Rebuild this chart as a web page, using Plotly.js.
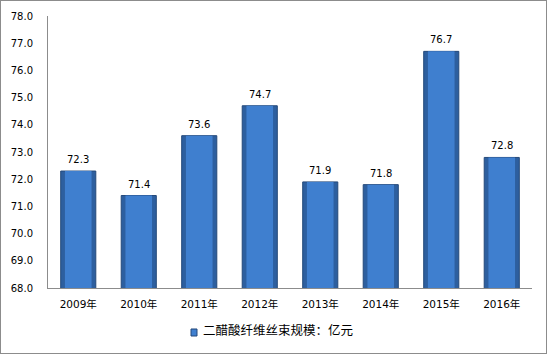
<!DOCTYPE html>
<html>
<head>
<meta charset="utf-8">
<script src="https://cdn.plot.ly/plotly-3.0.1.min.js"></script>
<style>
  body { margin: 0; padding: 0; background: #fff; }
  #wrap { position: relative; width: 548px; height: 356px; }
  #chart { position: absolute; left: 0; top: 0; width: 548px; height: 356px; }
  #frame { position: absolute; left: 0; top: 0; width: 547px; height: 354px; box-sizing: border-box; border: 1px solid #8c8c8c; pointer-events: none; }
</style>
</head>
<body>
<div id="wrap"><div id="chart"></div><div id="frame"></div></div>
<script>
const categories = ["2009年", "2010年", "2011年", "2012年", "2013年", "2014年", "2015年", "2016年"];
const values = [72.3, 71.4, 73.6, 74.7, 71.9, 71.8, 76.7, 72.8];
const valueLabels = ["72.3", "71.4", "73.6", "74.7", "71.9", "71.8", "76.7", "72.8"];
const seriesName = "二醋酸纤维丝束规模：亿元";
const yTicks = [68, 69, 70, 71, 72, 73, 74, 75, 76, 77, 78];
const yTickLabels = ["68.0", "69.0", "70.0", "71.0", "72.0", "73.0", "74.0", "75.0", "76.0", "77.0", "78.0"];

const font = "DejaVu Sans, Noto Sans CJK SC, sans-serif";

const outer = {
  type: "bar", x: categories, y: values, name: seriesName,
  width: 0.58,
  marker: { color: "#2d5f9f", line: { color: "#24497a", width: 1 } },
  cliponaxis: false,
  hoverinfo: "skip", showlegend: false
};
const inner = {
  type: "bar", x: categories, y: values, name: seriesName,
  width: 0.44,
  marker: { color: "#3f7fcf", line: { width: 0 } },
  hoverinfo: "skip", showlegend: false
};

const valueAnnotations = categories.map((c, i) => ({
  x: c, y: values[i], xref: "x", yref: "y",
  text: valueLabels[i], showarrow: false,
  xanchor: "center", yanchor: "bottom", yshift: 4,
  font: { family: font, size: 10, color: "#000" }
}));

const layout = {
  width: 548, height: 356,
  margin: { l: 48, r: 16, t: 16, b: 68, autoexpand: false },
  paper_bgcolor: "#fff", plot_bgcolor: "#fff",
  barmode: "overlay",
  font: { family: font, size: 10, color: "#000" },
  xaxis: {
    type: "category", showgrid: false, zeroline: false,
    showline: true, linecolor: "#8c8c8c", linewidth: 1,
    ticks: "", ticklabelstandoff: 6,
    tickfont: { family: font, size: 10.5, color: "#000" }
  },
  yaxis: {
    range: [68, 78], tickvals: yTicks, ticktext: yTickLabels,
    showgrid: false, zeroline: false,
    showline: true, linecolor: "#8c8c8c", linewidth: 1,
    ticks: "", ticklabelstandoff: 12,
    tickfont: { family: font, size: 10, color: "#000" }
  },
  showlegend: false,
  shapes: [
    { type: "rect", xref: "paper", yref: "paper",
      x0: (191 - 48) / 484, x1: (197 - 48) / 484, y0: -0.1507, y1: -0.1765,
      fillcolor: "#3f7fcf", line: { color: "#24497a", width: 1 } }
  ],
  annotations: valueAnnotations.concat([
    { xref: "paper", yref: "paper", x: (201 - 48) / 484, y: -0.154,
      xanchor: "left", yanchor: "middle", showarrow: false,
      text: seriesName,
      font: { family: "Noto Sans CJK SC, sans-serif", size: 12.5, color: "#000" } }
  ])
};

Plotly.newPlot("chart", [outer, inner], layout, { displayModeBar: false, staticPlot: true });
</script>
</body>
</html>
